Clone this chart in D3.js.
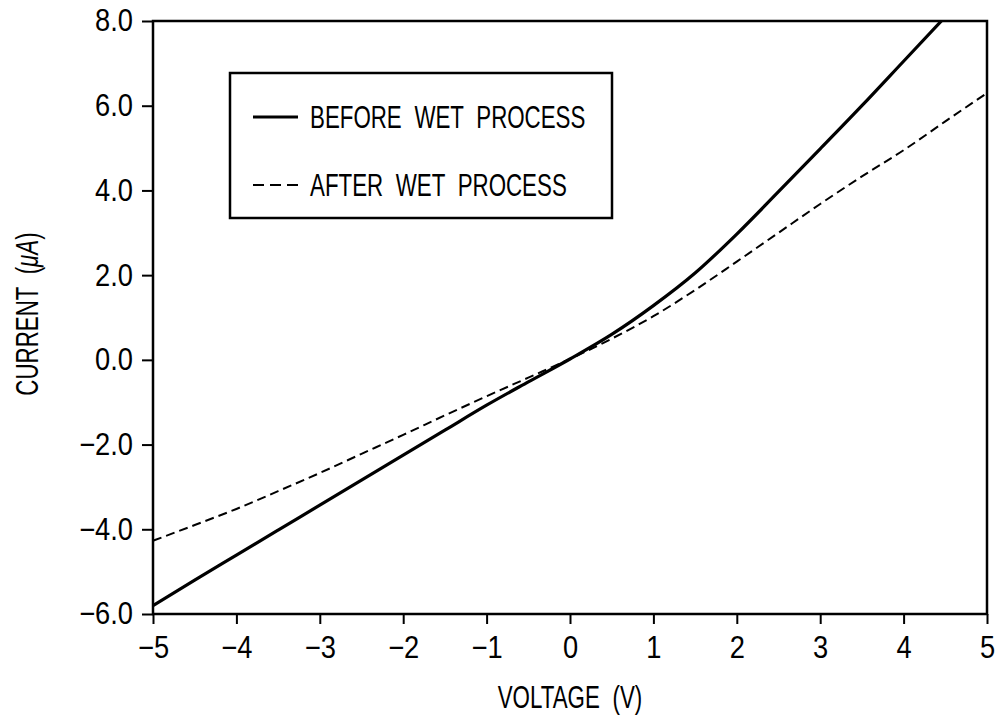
<!DOCTYPE html>
<html>
<head>
<meta charset="utf-8">
<script src="https://cdn.jsdelivr.net/npm/d3@7"></script>
<style>
  body { margin: 0; background: #fff; }
  text { font-family: "Liberation Sans", Arial, sans-serif; fill: #000; }
</style>
</head>
<body>
<div id="viz"></div>
<script>
// voltage steps (V)
const voltage = [-5, -4.5, -4, -3.5, -3, -2.5, -2, -1.5, -1, -0.5, 0, 0.5, 1, 1.5, 2, 2.5, 3, 3.5, 4, 4.5, 5];
// current before wet process (uA), runs off the top after ~4.4 V
const beforeWet = [-5.8, -5.2, -4.61, -4.02, -3.43, -2.84, -2.25, -1.66, -1.07, -0.52, 0.02, 0.6, 1.28, 2.05, 2.97, 3.97, 4.98, 6.0, 7.05, 8.1, 9.15];
// current after wet process (uA)
const afterWet = [-4.27, -3.9, -3.52, -3.1, -2.67, -2.22, -1.77, -1.31, -0.86, -0.42, 0.02, 0.5, 1.03, 1.65, 2.32, 3.0, 3.68, 4.33, 4.95, 5.63, 6.3];
const xTicks = [-5, -4, -3, -2, -1, 0, 1, 2, 3, 4, 5];
const yTicks = [-6, -4, -2, 0, 2, 4, 6, 8];
const legendLabels = ['BEFORE WET PROCESS', 'AFTER WET PROCESS'];

const SX = 0.72;      // horizontal squeeze for lettering (plotter font is narrow)
const SX_NUM = 0.88;  // digits are wider in the plotter font
const FS = 31;

const svg = d3.select('#viz')
    .append('svg')
    .attr('width', 995)
    .attr('height', 723);

const margin = {top: 21, right: 8, bottom: 109, left: 153},
    width = 995 - margin.left - margin.right,
    height = 723 - margin.top - margin.bottom;

const x = d3.scaleLinear().domain([-5, 5]).range([0, width]);
const y = d3.scaleLinear().domain([-6, 8]).range([height, 0]);

function narrow(sel, s) {
    s = s || SX;
    sel.each(function() {
        const t = d3.select(this);
        const tx = +(t.attr('x') || 0);
        t.attr('x', tx / s)
            .attr('transform', (t.attr('transform') || '') + ' scale(' + s + ',1)');
    });
}

const g = svg.append('g')
    .attr('transform', 'translate(' + margin.left + ',' + margin.top + ')');

g.append('clipPath').attr('id', 'plot-clip')
    .append('rect').attr('width', width).attr('height', height);

const yAxis = g.append('g')
    .call(d3.axisLeft(y).tickValues(yTicks).tickSize(11).tickPadding(9).tickFormat(d3.format('.1f')));
const xAxis = g.append('g')
    .attr('transform', 'translate(0,' + height + ')')
    .call(d3.axisBottom(x).tickValues(xTicks).tickSize(10).tickPadding(12).tickFormat(d3.format('d')));

[yAxis, xAxis].forEach(a => {
    a.attr('font-family', null).attr('font-size', null);
    a.select('.domain').remove();
    a.selectAll('.tick line').attr('stroke', '#000').attr('stroke-width', 2);
    a.selectAll('.tick text').attr('font-size', FS).attr('fill', '#000').call(narrow, SX_NUM);
});

// frame
g.append('rect')
    .attr('width', width).attr('height', height)
    .attr('fill', 'none').attr('stroke', '#000').attr('stroke-width', 2.5);

const line = d3.line()
    .x(d => x(d[0]))
    .y(d => y(d[1]))
    .curve(d3.curveMonotoneX);

g.append('path')
    .attr('clip-path', 'url(#plot-clip)')
    .attr('d', line(voltage.map((v, i) => [v, beforeWet[i]])))
    .attr('fill', 'none').attr('stroke', '#000').attr('stroke-width', 3.2);

g.append('path')
    .attr('d', line(voltage.map((v, i) => [v, afterWet[i]])))
    .attr('fill', 'none').attr('stroke', '#000').attr('stroke-width', 2)
    .attr('stroke-dasharray', '9,5');

// legend
const leg = svg.append('g').attr('transform', 'translate(230,73)');
leg.append('rect')
    .attr('width', 382).attr('height', 145)
    .attr('fill', '#fff').attr('stroke', '#000').attr('stroke-width', 2.5);

const items = leg.selectAll('g.item')
    .data(legendLabels)
    .enter().append('g')
    .attr('transform', (d, i) => 'translate(0,' + (44 + i * 68) + ')');

items.append('line')
    .attr('x1', 23).attr('x2', 68)
    .attr('stroke', '#000')
    .attr('stroke-width', (d, i) => i === 0 ? 3 : 2)
    .attr('stroke-dasharray', (d, i) => i === 0 ? null : '11,6');

items.append('text')
    .attr('x', 80)
    .attr('y', 11)
    .attr('font-size', FS)
    .attr('word-spacing', 9)
    .text(d => d)
    .call(narrow);

// axis titles
svg.append('text')
    .attr('x', margin.left + x(0))
    .attr('y', 708)
    .attr('text-anchor', 'middle')
    .attr('font-size', FS)
    .attr('word-spacing', 9)
    .text('VOLTAGE (V)')
    .call(narrow);

const yt = svg.append('text')
    .attr('transform', 'translate(38,314) rotate(-90) scale(' + SX + ',1)')
    .attr('text-anchor', 'middle')
    .attr('font-size', FS)
    .attr('word-spacing', 9);
yt.append('tspan').text('CURRENT (');
yt.append('tspan').attr('font-style', 'italic').text('\u03bcA');
yt.append('tspan').text(')');
</script>
</body>
</html>
